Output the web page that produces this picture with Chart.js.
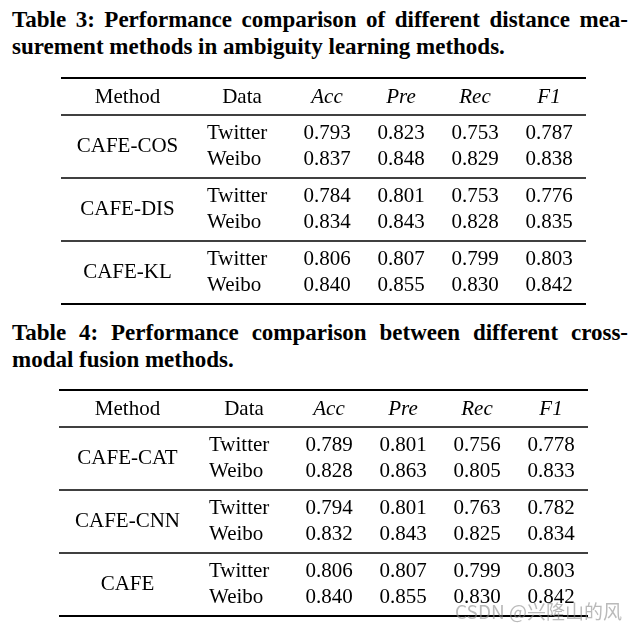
<!DOCTYPE html>
<html>
<head>
<meta charset="utf-8">
<script src="https://cdn.jsdelivr.net/npm/chart.js@4.4.0/dist/chart.umd.min.js"></script>
<style>
  body { margin: 0; background: #fff; width: 641px; height: 631px; position: relative; overflow: hidden; }
  .cap { position: absolute; left: 12px; width: 616px; font-family: 'Liberation Serif', serif; font-weight: bold; font-size: 23px; line-height: 27px; color: #000; }
  .cap div { white-space: nowrap; }
  .cap .j { text-align: justify; text-align-last: justify; }
  canvas { position: absolute; left: 0; }
  .wm { position: absolute; left: 455px; top: 597px; font-family: 'Noto Sans CJK SC', sans-serif; font-size: 19px; color: rgba(140, 140, 140, 0.6); white-space: nowrap; }
</style>
</head>
<body>
<div class="cap" style="top:6px">
  <div class="j">Table 3: Performance comparison of different distance mea-</div>
  <div>surement methods in ambiguity learning methods.</div>
</div>
<canvas id="table3" width="641" height="236" style="top:74px"></canvas>
<div class="cap" style="top:319px">
  <div class="j">Table 4: Performance comparison between different cross-</div>
  <div>modal fusion methods.</div>
</div>
<canvas id="table4" width="641" height="236" style="top:386px"></canvas>
<div class="wm">CSDN @兴隆山的风</div>
<script>
const dataSources = ['Twitter', 'Weibo'];
const metrics = ['Acc', 'Pre', 'Rec', 'F1'];

// Table 3: distance measurement methods (two rows per method: Twitter, Weibo)
const methods3 = ['CAFE-COS', 'CAFE-DIS', 'CAFE-KL'];
const acc3 = [0.793, 0.837, 0.784, 0.834, 0.806, 0.840];
const pre3 = [0.823, 0.848, 0.801, 0.843, 0.807, 0.855];
const rec3 = [0.753, 0.829, 0.753, 0.828, 0.799, 0.830];
const f1_3 = [0.787, 0.838, 0.776, 0.835, 0.803, 0.842];

// Table 4: cross-modal fusion methods
const methods4 = ['CAFE-CAT', 'CAFE-CNN', 'CAFE'];
const acc4 = [0.789, 0.828, 0.794, 0.832, 0.806, 0.840];
const pre4 = [0.801, 0.863, 0.801, 0.843, 0.807, 0.855];
const rec4 = [0.756, 0.805, 0.763, 0.825, 0.799, 0.830];
const f1_4 = [0.778, 0.833, 0.782, 0.834, 0.803, 0.842];

// layout: column widths (px) and row offsets inside each table canvas
const colWidths3 = [133, 96, 74, 74, 74, 74];
const colWidths4 = [137, 96, 74, 74, 74, 74];
const W = 641, H = 236;
const topRule = 4, headRow = 23, midRule = 41, groupH = 63;
const rowY = i => midRule + groupH * Math.floor(i / 2) + (i % 2 ? 44 : 18);
const bodyFont = "21px 'Liberation Serif'";
const headFontIt = "italic 21px 'Liberation Serif'";

function makeTable(id, methods, series, colWidths) {
  const tableW = colWidths.reduce((a, b) => a + b, 0);
  const edges = [(W - tableW) / 2 + 3];
  colWidths.forEach(w => edges.push(edges[edges.length - 1] + w));
  const centers = colWidths.map((w, i) => edges[i] + w / 2);

  new Chart(document.getElementById(id), {
    type: 'scatter',
    data: {
      datasets: series.map((vals, m) => ({
        label: metrics[m],
        data: vals.map((v, i) => ({ x: centers[m + 2], y: rowY(i), v: v })),
        pointRadius: 0
      }))
    },
    options: {
      responsive: false,
      animation: false,
      devicePixelRatio: 1,
      layout: { padding: 0 },
      plugins: { legend: { display: false }, tooltip: { enabled: false } },
      scales: {
        x: { type: 'linear', min: 0, max: W, display: false },
        y: { type: 'linear', min: 0, max: H, reverse: true, display: false }
      }
    },
    plugins: [{
      id: 'tableText',
      afterDraw(chart) {
        const ctx = chart.ctx;
        const px = v => chart.scales.x.getPixelForValue(v);
        const py = v => chart.scales.y.getPixelForValue(v);
        ctx.save();
        ctx.strokeStyle = '#000';
        const rule = (y, lw) => {
          ctx.lineWidth = lw;
          ctx.beginPath();
          ctx.moveTo(px(edges[0]), py(y));
          ctx.lineTo(px(edges[edges.length - 1]), py(y));
          ctx.stroke();
        };
        rule(topRule, 2);
        for (let g = 0; g < methods.length; g++) rule(midRule + groupH * g, 1.4);
        rule(midRule + groupH * methods.length, 2);

        ctx.fillStyle = '#000';
        ctx.textBaseline = 'middle';
        ctx.textAlign = 'center';
        ctx.font = bodyFont;
        ctx.fillText('Method', px(centers[0]), py(headRow));
        ctx.fillText('Data', px(centers[1]), py(headRow));
        ctx.font = headFontIt;
        metrics.forEach((m, i) => ctx.fillText(m, px(centers[i + 2]), py(headRow)));

        ctx.font = bodyFont;
        methods.forEach((m, g) => {
          ctx.textAlign = 'center';
          ctx.fillText(m, px(centers[0]), py(midRule + groupH * g + 31));
          ctx.textAlign = 'left';
          dataSources.forEach((d, k) => ctx.fillText(d, px(edges[1] + 13), py(rowY(2 * g + k))));
        });

        ctx.textAlign = 'center';
        chart.data.datasets.forEach((ds, m) => {
          chart.getDatasetMeta(m).data.forEach((pt, i) => {
            ctx.fillText(ds.data[i].v.toFixed(3), pt.x, pt.y);
          });
        });
        ctx.restore();
      }
    }]
  });
}

makeTable('table3', methods3, [acc3, pre3, rec3, f1_3], colWidths3);
makeTable('table4', methods4, [acc4, pre4, rec4, f1_4], colWidths4);
</script>
</body>
</html>
